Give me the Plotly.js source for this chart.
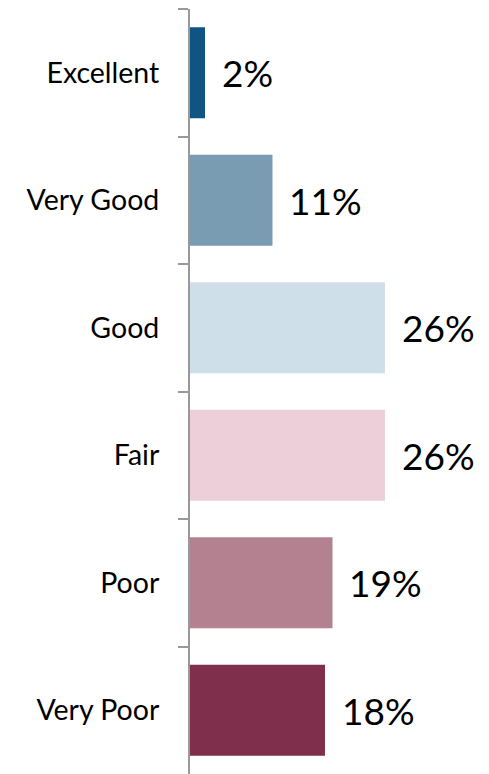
<!DOCTYPE html>
<html>
<head>
<meta charset="utf-8">
<script src="https://cdn.plot.ly/plotly-3.0.1.min.js"></script>
<style>html,body{margin:0;padding:0;background:#fff;}#chart{width:489px;height:774px;}</style>
</head>
<body>
<div id="chart"></div>
<script>
const categories = ["Excellent", "Very Good", "Good", "Fair", "Poor", "Very Poor"];
const values = [2, 11, 26, 26, 19, 18];
const labels = ["2%", "11%", "26%", "26%", "19%", "18%"];
const colors = ["#0F5482", "#7A9CB3", "#CFDFE9", "#EDCFDA", "#B3818F", "#7F2F4B"];

const FONT = "Lato, 'Liberation Sans', Arial, sans-serif";

const trace = {
  type: "bar",
  orientation: "h",
  x: values,
  y: categories,
  marker: {color: colors},
  hoverinfo: "none"
};

const annotations = values.map((v, i) => ({
  x: v, y: categories[i], xref: "x", yref: "y",
  text: labels[i], showarrow: false,
  xanchor: "left", yanchor: "middle", xshift: 15,
  font: {family: FONT, size: 37, color: "#000"}
}));

const layout = {
  width: 489, height: 774,
  margin: {l: 190, r: 0, t: 9, b: 0},
  paper_bgcolor: "#fff", plot_bgcolor: "#fff",
  showlegend: false,
  bargap: 0.288,
  xaxis: {range: [0, 39.87], visible: false, fixedrange: true},
  yaxis: {
    type: "category", autorange: false, range: [5.5, -0.5],
    showline: true, linecolor: "#999", linewidth: 2,
    ticks: "outside", tickson: "boundaries", ticklen: 10, tickcolor: "#999", tickwidth: 2,
    ticklabelstandoff: 23,
    showgrid: false, zeroline: false,
    tickfont: {family: FONT, size: 28.5, color: "#000"}
  },
  annotations: annotations
};

Plotly.newPlot("chart", [trace], layout, {displayModeBar: false, staticPlot: true});
</script>
</body>
</html>
